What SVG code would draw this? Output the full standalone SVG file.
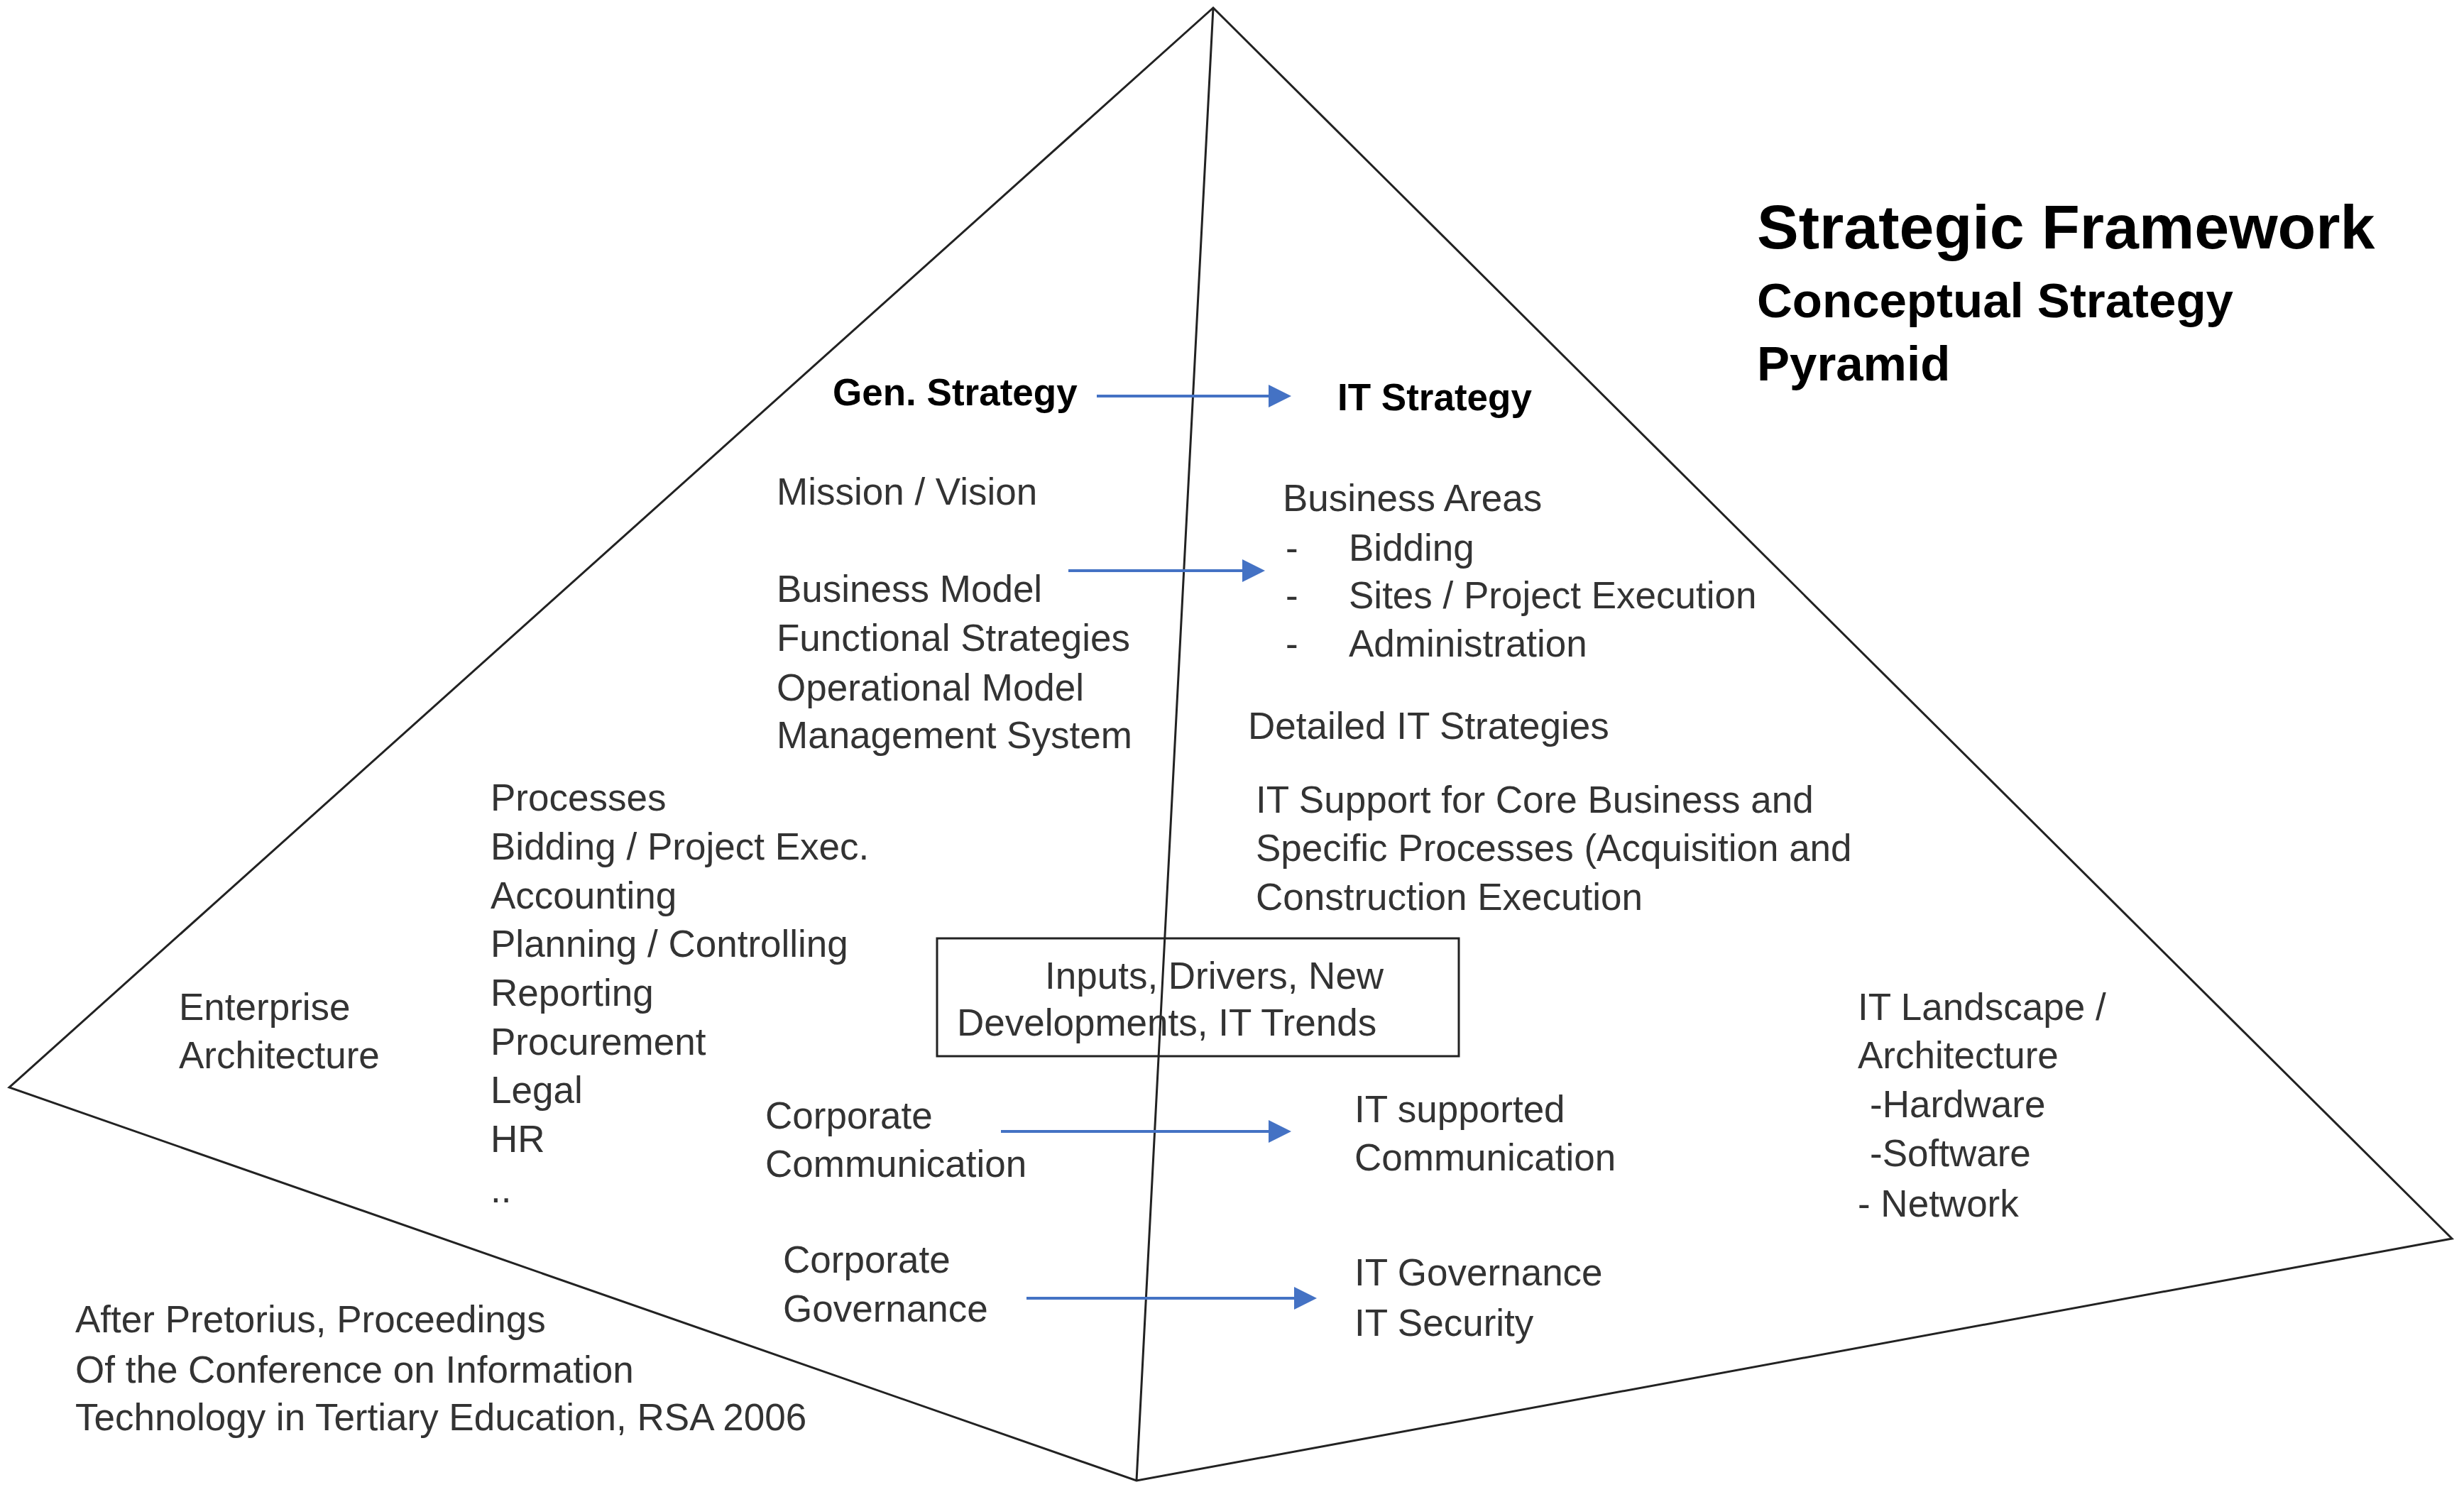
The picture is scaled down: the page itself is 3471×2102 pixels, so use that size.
<svg xmlns="http://www.w3.org/2000/svg" width="3471" height="2102" viewBox="0 0 3471 2102">
<style>
.t{font-family:"Liberation Sans",Arial,sans-serif;font-size:53px;fill:#333}
.b{font-family:"Liberation Sans",Arial,sans-serif;font-weight:bold;fill:#000}
.e{stroke:#222;stroke-width:3;fill:none}
.a{stroke:#4472C4;stroke-width:4;fill:none;marker-end:url(#ah)}
</style>
<defs><marker id="ah" markerWidth="8" markerHeight="8" refX="7" refY="4" orient="auto" markerUnits="strokeWidth"><path d="M0,0 L8,4 L0,8 z" fill="#4472C4"/></marker></defs>
<rect width="3471" height="2102" fill="#fff"/>
<g id="pyramid">
<path class="e" d="M1709,11 L13,1532 L1601,2086 L3454,1745 Z M1709,11 L1601,2086"/>
</g>
<g id="connectors">
<line class="a" x1="1545" y1="558" x2="1815" y2="558"/>
<line class="a" x1="1505" y1="804" x2="1778" y2="804"/>
<line class="a" x1="1410" y1="1594" x2="1815" y2="1594"/>
<line class="a" x1="1446" y1="1829" x2="1851" y2="1829"/>
</g>
<g id="title">
<text class="b" x="2475" y="350" font-size="88">Strategic Framework</text>
<text class="b" x="2475" y="447" font-size="69">Conceptual Strategy</text>
<text class="b" x="2475" y="536" font-size="69">Pyramid</text>
</g>
<g id="gen"><text class="b" x="1173" y="571" font-size="53">Gen. Strategy</text></g>
<g id="it"><text class="b" x="1884" y="578" font-size="53">IT Strategy</text></g>
<g id="mission"><text class="t" x="1094" y="711">Mission / Vision</text>
<text class="t" x="1094" y="848">Business Model</text>
<text class="t" x="1094" y="917">Functional Strategies</text>
<text class="t" x="1094" y="987">Operational Model</text>
<text class="t" x="1094" y="1054">Management System</text></g>
<g id="areas"><text class="t" x="1807" y="720">Business Areas</text>
<text class="t" x="1811" y="790">-</text><text class="t" x="1900" y="790">Bidding</text>
<text class="t" x="1811" y="857">-</text><text class="t" x="1900" y="857">Sites / Project Execution</text>
<text class="t" x="1811" y="925">-</text><text class="t" x="1900" y="925">Administration</text></g>
<g id="detailed"><text class="t" x="1758" y="1041">Detailed IT Strategies</text>
<text class="t" x="1769" y="1145">IT Support for Core Business and</text>
<text class="t" x="1769" y="1213">Specific Processes (Acquisition and</text>
<text class="t" x="1769" y="1282">Construction Execution</text></g>
<g id="processes">
<text class="t" x="691" y="1142">Processes</text>
<text class="t" x="691" y="1211">Bidding / Project Exec.</text>
<text class="t" x="691" y="1280">Accounting</text>
<text class="t" x="691" y="1348">Planning / Controlling</text>
<text class="t" x="691" y="1417">Reporting</text>
<text class="t" x="691" y="1486">Procurement</text>
<text class="t" x="691" y="1554">Legal</text>
<text class="t" x="691" y="1623">HR</text>
<text class="t" x="691" y="1694">..</text></g>
<g id="inputs"><rect x="1320" y="1322" width="735" height="166" fill="none" stroke="#222" stroke-width="3"/>
<text class="t" x="1472" y="1393">Inputs, Drivers, New</text>
<text class="t" x="1348" y="1459">Developments, IT Trends</text></g>
<g id="ea"><text class="t" x="252" y="1437">Enterprise</text><text class="t" x="252" y="1505">Architecture</text></g>
<g id="cc"><text class="t" x="1078" y="1590">Corporate</text><text class="t" x="1078" y="1658">Communication</text></g>
<g id="itc"><text class="t" x="1908" y="1581">IT supported</text><text class="t" x="1908" y="1649">Communication</text></g>
<g id="cg"><text class="t" x="1103" y="1793">Corporate</text><text class="t" x="1103" y="1862">Governance</text></g>
<g id="itg"><text class="t" x="1908" y="1811">IT Governance</text><text class="t" x="1908" y="1882">IT Security</text></g>
<g id="land"><text class="t" x="2617" y="1437">IT Landscape /</text>
<text class="t" x="2617" y="1505">Architecture</text>
<text class="t" x="2634" y="1574">-Hardware</text>
<text class="t" x="2634" y="1643">-Software</text>
<text class="t" x="2617" y="1714">- Network</text></g>
<g id="source"><text class="t" x="106" y="1877">After Pretorius, Proceedings</text>
<text class="t" x="106" y="1948">Of the Conference on Information</text>
<text class="t" x="106" y="2015">Technology in Tertiary Education, RSA 2006</text></g>
</svg>
